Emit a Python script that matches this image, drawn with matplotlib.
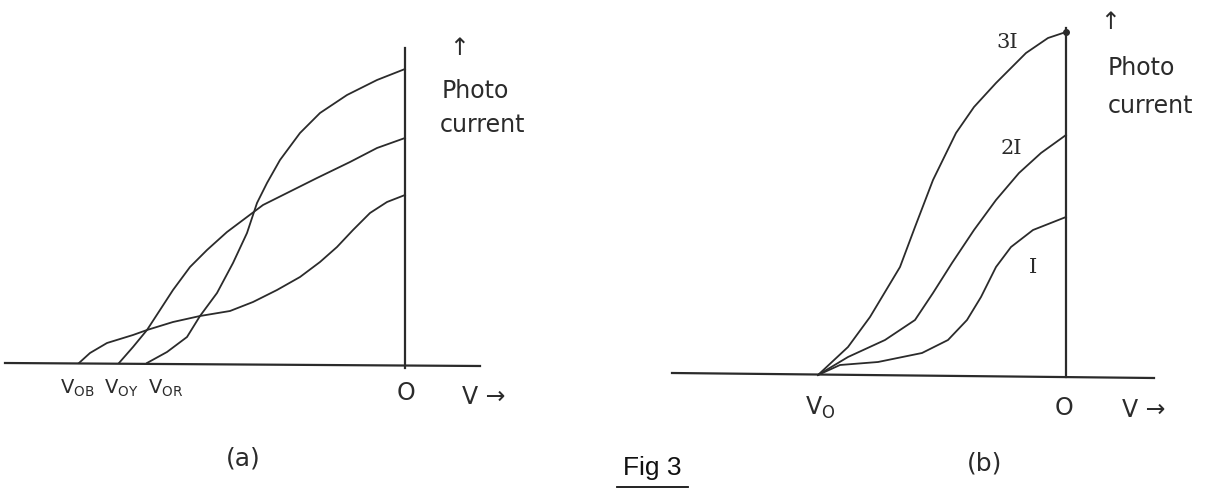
import matplotlib.pyplot as plt

# (a) photocurrent vs voltage for blue, yellow and red light
v_blue = [-3.26, -3.15, -2.98, -2.72, -2.58, -2.32, -2.05, -1.75, -1.52, -1.28, -1.05, -0.85, -0.68, -0.52, -0.35, -0.18, 0]
i_blue = [0, 0.10, 0.20, 0.28, 0.33, 0.41, 0.47, 0.52, 0.61, 0.73, 0.86, 1.01, 1.16, 1.33, 1.50, 1.61, 1.68]

v_yellow = [-2.86, -2.72, -2.58, -2.45, -2.32, -2.15, -1.98, -1.78, -1.58, -1.42, -1.18, -0.88, -0.55, -0.28, 0]
i_yellow = [0, 0.16, 0.33, 0.53, 0.73, 0.96, 1.13, 1.31, 1.46, 1.58, 1.70, 1.85, 2.01, 2.15, 2.25]

v_red = [-2.58, -2.38, -2.18, -2.05, -1.88, -1.72, -1.58, -1.48, -1.38, -1.25, -1.05, -0.85, -0.58, -0.28, 0]
i_red = [0, 0.11, 0.26, 0.47, 0.70, 1.00, 1.30, 1.60, 1.80, 2.03, 2.30, 2.50, 2.68, 2.83, 2.94]

labels_a = [r"V$_{\mathrm{OB}}$", r"V$_{\mathrm{OY}}$", r"V$_{\mathrm{OR}}$"]
labels_a_x = [-3.28, -2.84, -2.39]

# (b) photocurrent vs voltage for intensities I, 2I, 3I
v_3i = [-2.48, -2.18, -1.96, -1.66, -1.51, -1.33, -1.10, -0.92, -0.70, -0.40, -0.18, 0]
i_3i = [0, 0.28, 0.58, 1.08, 1.48, 1.95, 2.42, 2.68, 2.92, 3.22, 3.37, 3.43]

v_2i = [-2.48, -2.18, -1.81, -1.51, -1.33, -1.14, -0.92, -0.70, -0.47, -0.25, 0]
i_2i = [0, 0.18, 0.35, 0.55, 0.82, 1.12, 1.45, 1.75, 2.02, 2.22, 2.40]

v_1i = [-2.48, -2.26, -1.88, -1.44, -1.18, -0.99, -0.85, -0.70, -0.55, -0.33, 0]
i_1i = [0, 0.10, 0.13, 0.22, 0.35, 0.55, 0.78, 1.08, 1.28, 1.45, 1.58]

labels_b = ["3I", "2I", "I"]
labels_b_pos = [(-0.59, 3.33), (-0.55, 2.27), (-0.33, 1.08)]

ink = "#2b2b2b"
lw = 1.3

fig = plt.figure(figsize=(12.19, 4.9), dpi=100)
ax1 = fig.add_axes([0, 0, 610 / 1219, 1])
ax2 = fig.add_axes([610 / 1219, 0, 609 / 1219, 1])

for ax in (ax1, ax2):
    ax.axis("off")

# ---- panel (a)
ax1.set_xlim(-4.05, 2.05)
ax1.set_ylim(-1.27, 3.63)
ax1.plot([-4.0, 0.75], [0, -0.03], color=ink, lw=1.6)
ax1.plot([0, 0], [-0.05, 3.15], color=ink, lw=1.6)
for v, i in [(v_blue, i_blue), (v_yellow, i_yellow), (v_red, i_red)]:
    ax1.plot(v, i, color=ink, lw=lw)

for lab, x in zip(labels_a, labels_a_x):
    ax1.text(x, -0.25, lab, fontsize=14, ha="center", va="center", color=ink)
ax1.text(0.01, -0.30, "O", fontsize=17, ha="center", va="center", color=ink)
ax1.text(0.57, -0.34, "V →", fontsize=17, ha="left", va="center", color=ink)
ax1.text(0.54, 3.15, "↑", fontsize=17, ha="center", va="center", color=ink)
ax1.text(0.37, 2.65, "Photo", fontsize=17, ha="left", va="baseline", color=ink)
ax1.text(0.35, 2.31, "current", fontsize=17, ha="left", va="baseline", color=ink)
ax1.text(-1.62, -0.95, "(a)", fontsize=18, ha="center", va="center", color=ink)

# ---- panel (b)
ax2.set_xlim(-4.56, 1.53)
ax2.set_ylim(-1.15, 3.75)
ax2.plot([-3.94, 0.88], [0.02, -0.03], color=ink, lw=1.6)
ax2.plot([0, 0], [-0.02, 3.47], color=ink, lw=1.6)
for v, i in [(v_3i, i_3i), (v_2i, i_2i), (v_1i, i_1i)]:
    ax2.plot(v, i, color=ink, lw=lw)
ax2.plot(v_3i[-1:], i_3i[-1:], "o", color=ink, ms=4)

for lab, (x, y) in zip(labels_b, labels_b_pos):
    ax2.text(x, y, lab, fontsize=15, family="DejaVu Serif", ha="center", va="center", color=ink)
ax2.text(-2.46, -0.33, r"V$_{\mathrm{O}}$", fontsize=17, ha="center", va="center", color=ink)
ax2.text(-0.02, -0.33, "O", fontsize=17, ha="center", va="center", color=ink)
ax2.text(0.56, -0.35, "V →", fontsize=17, ha="left", va="center", color=ink)
ax2.text(0.44, 3.53, "↑", fontsize=17, ha="center", va="center", color=ink)
ax2.text(0.42, 3.00, "Photo", fontsize=17, ha="left", va="baseline", color=ink)
ax2.text(0.42, 2.62, "current", fontsize=17, ha="left", va="baseline", color=ink)
ax2.text(-0.81, -0.88, "(b)", fontsize=18, ha="center", va="center", color=ink)

# caption
fig.text(652 / 1219, 1 - 468 / 490, "Fig 3", fontsize=19, family="Liberation Sans",
         ha="center", va="center", color="#111111")
fig.add_artist(plt.Line2D([617 / 1219, 688 / 1219], [1 - 487 / 490, 1 - 487 / 490],
                          color="#111111", lw=1.3))

fig.savefig("out.png", dpi=100)
